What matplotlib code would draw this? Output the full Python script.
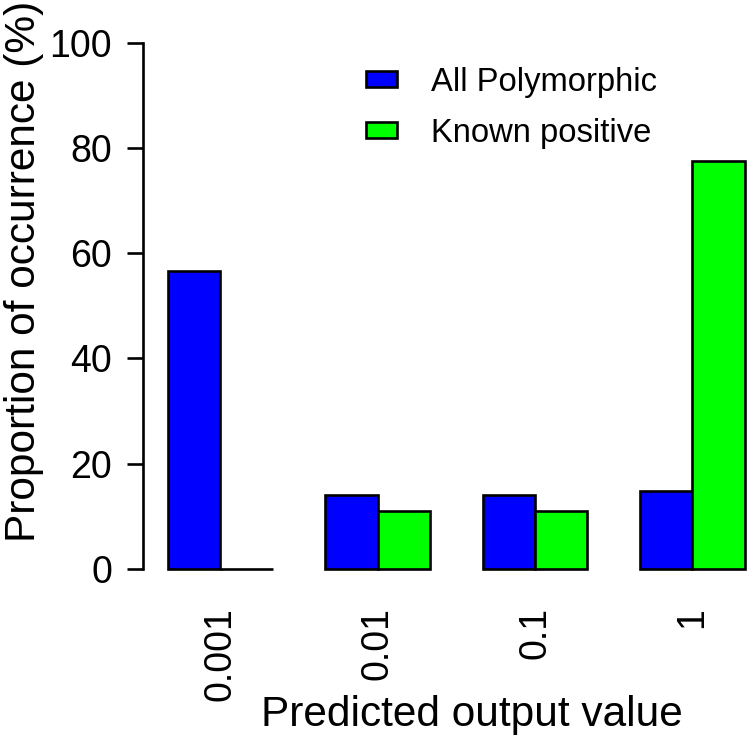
import numpy as np
import matplotlib
matplotlib.use("Agg")
import matplotlib.pyplot as plt
from matplotlib.patches import Patch

plt.rcParams['font.family'] = ['Liberation Sans', 'DejaVu Sans']

# data
categories = ['0.001', '0.01', '0.1', '1']
all_poly = [56.7, 14.1, 14.1, 14.9]
known_pos = [0.0, 11.1, 11.1, 77.6]
series_names = ['All Polymorphic', 'Known positive']
yticks = [0, 20, 40, 60, 80, 100]

blue = '#0000FF'
green = '#00FF00'
lw = 1.9

fig = plt.figure(figsize=(7.56, 7.46), dpi=100)
W, H = 756, 746
# axes box in pixels (R-like barplot region, right edge runs off the image)
left_px, right_px, top_px, bot_px = 143.3, 800.0, 21.6, 590.0
ax = fig.add_axes([left_px / W, 1 - bot_px / H,
                   (right_px - left_px) / W, (bot_px - top_px) / H])

# barplot(beside=TRUE) layout: bar width 1, one bar of space between groups
n = len(categories)
group_start = 1 + 3 * np.arange(n)
ax.bar(group_start, all_poly, width=1, align='edge', color=blue,
       edgecolor='black', linewidth=lw, joinstyle='miter')
ax.bar(group_start + 1, known_pos, width=1, align='edge', color=green,
       edgecolor='black', linewidth=lw, joinstyle='miter')

ax.set_xlim(0.535, 13.05)
ax.set_ylim(-4, 104)

for s in ['top', 'right', 'bottom']:
    ax.spines[s].set_visible(False)
ax.spines['left'].set_bounds(0, 100)
ax.spines['left'].set_linewidth(lw)

ax.set_yticks(yticks)
ax.set_yticklabels([str(v) for v in yticks])
ax.tick_params(axis='y', length=11.5, width=lw, pad=11, labelsize=27)

ax.set_xticks(group_start + 1)
ax.set_xticklabels(categories, rotation=90)
ax.tick_params(axis='x', length=0, pad=12, labelsize=27)

ax.set_ylabel('Proportion of occurrence (%)', fontsize=30.5)
ax.yaxis.set_label_coords((44 - left_px) / (right_px - left_px),
                          (bot_px - 271) / (bot_px - top_px))
ax.set_xlabel('Predicted output value', fontsize=30.5)
ax.xaxis.set_label_coords(0.5, (bot_px - 695) / (bot_px - top_px))

handles = [Patch(facecolor=blue, edgecolor='black', linewidth=lw),
           Patch(facecolor=green, edgecolor='black', linewidth=lw)]
fig.legend(handles, series_names, loc='upper left',
           bbox_to_anchor=(365.7 / W, 1 - 67 / H), frameon=False,
           fontsize=23.6, borderpad=0, borderaxespad=0,
           handlelength=0.94, handleheight=0.38, handletextpad=1.05,
           labelspacing=0.6)

fig.savefig('out.png', dpi=100)
